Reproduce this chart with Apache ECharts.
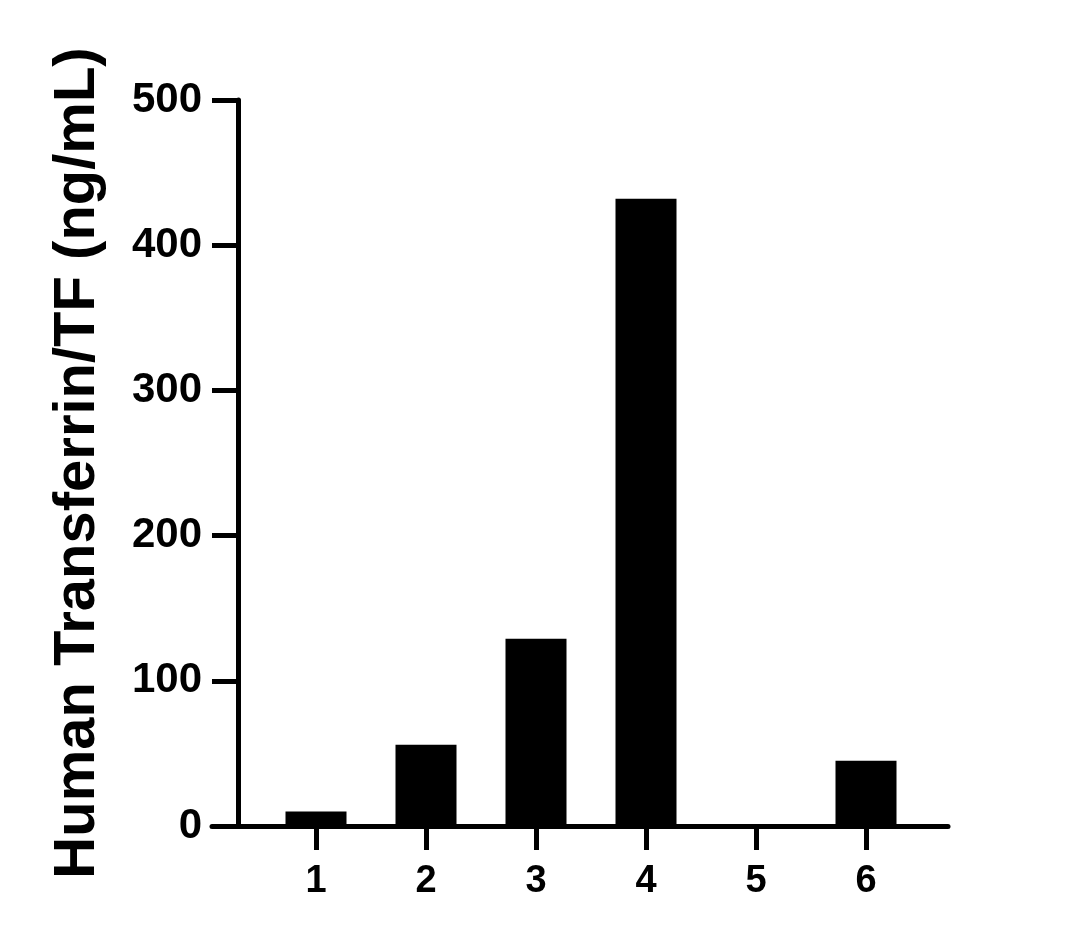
<!DOCTYPE html>
<html>
<head>
	<meta charset="utf-8">
	<title>Human Transferrin/TF</title>
	<script src="https://cdn.jsdelivr.net/npm/echarts@6/dist/echarts.min.js" charset="utf-8"></script>
	<style>
		html, body { margin: 0; padding: 0; background: #fff; }
		#chart { width: 1079px; height: 943px; }
	</style>
</head>
<body>
<div id="chart"></div>
<script>
	// sample numbers on the x axis and measured concentrations
	var categories = ['1', '2', '3', '4', '5', '6'];
	var values = [10, 56, 129, 432, 0, 45];
	var yTicks = [0, 100, 200, 300, 400, 500];

	var font = '"Liberation Sans", Arial, sans-serif';

	// x axis is a value axis so the axis line can run past the bars like the prism plot
	var xPositions = categories.map(function (c, i) { return i + 1; });
	var barData = values.map(function (v, i) { return [xPositions[i], v]; });

	var myChart = echarts.init(document.getElementById('chart'));
	var option = {
		animation: false,
		backgroundColor: '#fff',
		grid: {left: 212, right: 131, top: 100, bottom: 117, containLabel: false},
		xAxis: {
			type: 'value',
			min: 1 - 104 / 110,
			max: 1 - 104 / 110 + 736 / 110,
			splitLine: {show: false},
			axisLine: {show: true, onZero: false, lineStyle: {color: '#000', width: 5}},
			axisTick: {show: true, length: 24, customValues: xPositions, lineStyle: {color: '#000', width: 5}},
			axisLabel: {
				customValues: xPositions,
				margin: 37,
				color: '#000',
				fontSize: 38,
				fontWeight: 'bold',
				fontFamily: font,
				formatter: function (v) { return categories[Math.round(v) - 1]; }
			}
		},
		yAxis: {
			type: 'value',
			min: yTicks[0],
			max: yTicks[yTicks.length - 1],
			interval: 100,
			offset: -26,
			name: 'Human Transferrin/TF (ng/mL)',
			nameLocation: 'middle',
			nameGap: 131,
			nameTextStyle: {color: '#000', fontSize: 58, fontWeight: 'bold', fontFamily: font},
			splitLine: {show: false},
			axisLine: {show: true, onZero: false, lineStyle: {color: '#000', width: 5}},
			axisTick: {show: true, length: 26, lineStyle: {color: '#000', width: 5}},
			axisLabel: {margin: 36, color: '#000', fontSize: 42, fontWeight: 'bold', fontFamily: font}
		},
		series: [{
			type: 'bar',
			data: barData,
			barWidth: 61,
			itemStyle: {color: '#000'}
		}]
	};
	option && myChart.setOption(option);
</script>
</body>
</html>
